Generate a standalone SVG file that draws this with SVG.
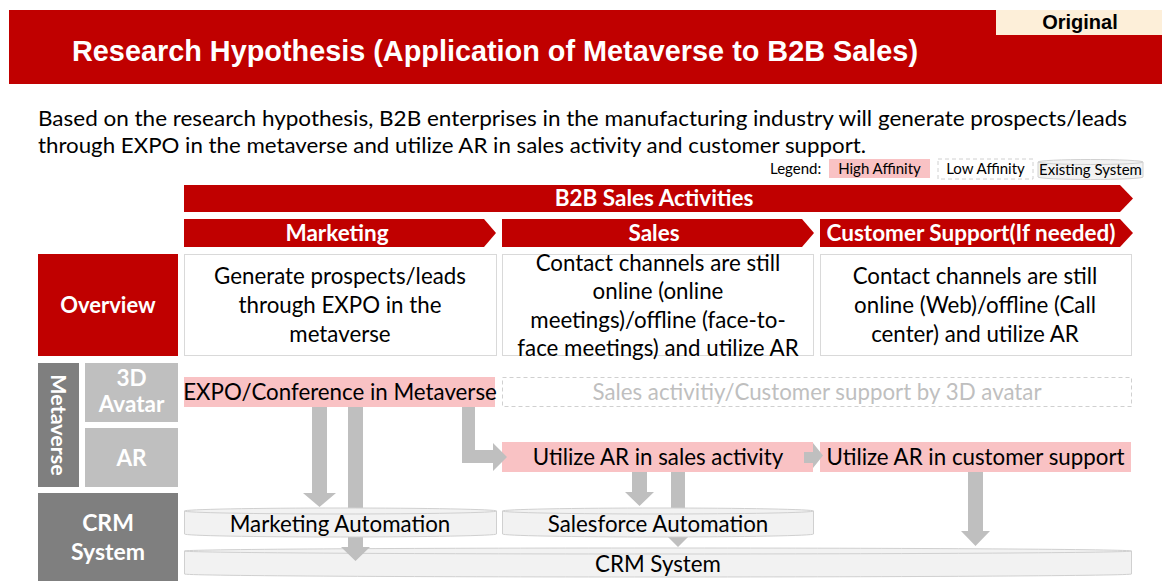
<svg xmlns="http://www.w3.org/2000/svg" width="1162" height="581" viewBox="0 0 1162 581">
<style>
.red{fill:#C00000}
.pink{fill:#F9C2C4}
.ga{fill:#BFBFBF}
.t{font-family:Lato,"Open Sans","Liberation Sans",sans-serif;fill:#000}
.tb{font-family:Lato,"Open Sans","Liberation Sans",sans-serif;font-weight:bold;fill:#FFFFFF}
.c{text-anchor:middle}
.n{font-size:22.3px}
.h{font-size:22.5px}
.box{fill:#FFFFFF;stroke:#D9D9D9;stroke-width:1}
.cyl{fill:#F2F2F2;stroke:#D0D0D0;stroke-width:1}
.dash{fill:#FFFFFF;stroke:#D0D0D0;stroke-width:1;stroke-dasharray:4 3}
</style>
<rect width="1162" height="581" fill="#FFFFFF"/>
<g id="title">
<rect x="9" y="10" width="1153" height="74" class="red"/>
<rect x="996" y="10" width="166" height="25" fill="#FDEFD9"/>
<text x="1080" y="29" text-anchor="middle" font-family="'Liberation Sans',Arial,sans-serif" font-weight="bold" font-size="20" fill="#000">Original</text>
<text x="72" y="61" font-family="'Liberation Sans',Arial,sans-serif" font-weight="bold" font-size="29" fill="#FFFFFF" textLength="846" lengthAdjust="spacingAndGlyphs">Research Hypothesis (Application of Metaverse to B2B Sales)</text>
</g>
<g id="intro">
<text class="t" x="38" y="126" font-size="21.5" textLength="1089" lengthAdjust="spacingAndGlyphs">Based on the research hypothesis, B2B enterprises in the manufacturing industry will generate prospects/leads</text>
<text class="t" x="38" y="153" font-size="21.5" textLength="828" lengthAdjust="spacingAndGlyphs">through EXPO in the metaverse and utilize AR in sales activity and customer support.</text>
</g>
<g id="legend">
<text class="t" x="770" y="174" font-size="15">Legend:</text>
<rect x="829" y="159" width="101" height="19" class="pink"/>
<text class="t c" x="879.5" y="174" font-size="15">High Affinity</text>
<rect x="938" y="159" width="95" height="20" class="dash"/>
<text class="t c" x="985.5" y="174" font-size="15">Low Affinity</text>
<path class="cyl" d="M1038,162 A52.5,2.5 0 0 1 1143,162 V177 A52.5,2.5 0 0 1 1038,177 Z"/>
<path d="M1038,162 A52.5,2.5 0 0 0 1143,162" fill="none" stroke="#D0D0D0"/>
<text class="t c" x="1090.5" y="175" font-size="15">Existing System</text>
</g>
<g id="b2b-activities">
<polygon class="red" points="184,185 1120,185 1133,198.5 1120,212 184,212"/>
<text class="tb c h" x="654" y="206">B2B Sales Activities</text>
</g>
<g id="marketing-header">
<polygon class="red" points="184,219 484,219 496,233 484,247 184,247"/>
<text class="tb c h" x="337" y="241">Marketing</text>
</g>
<g id="sales-header">
<polygon class="red" points="502,219 802,219 814,233 802,247 502,247"/>
<text class="tb c h" x="654" y="241">Sales</text>
</g>
<g id="support-header">
<polygon class="red" points="820,219 1120,219 1133,233 1120,247 820,247"/>
<text class="tb c h" x="971" y="241">Customer Support(If needed)</text>
</g>
<g id="overview-label">
<rect x="38" y="254" width="140" height="102" class="red"/>
<text class="tb c" x="108" y="313" font-size="22">Overview</text>
</g>
<g id="overview-marketing">
<rect x="184.5" y="254.5" width="312" height="101" class="box"/>
<text class="t c n"><tspan x="340" y="284">Generate prospects/leads</tspan><tspan x="340" y="313">through EXPO in the</tspan><tspan x="340" y="342">metaverse</tspan></text>
</g>
<g id="overview-sales">
<rect x="502.5" y="254.5" width="311" height="101" class="box"/>
<text class="t c n"><tspan x="658" y="271">Contact channels are still</tspan><tspan x="658" y="299">online (online</tspan><tspan x="658" y="328">meetings)/offline (face-to-</tspan><tspan x="658" y="356">face meetings) and utilize AR</tspan></text>
</g>
<g id="overview-support">
<rect x="820.5" y="254.5" width="311" height="101" class="box"/>
<text class="t c n"><tspan x="975" y="284">Contact channels are still</tspan><tspan x="975" y="313">online (Web)/offline (Call</tspan><tspan x="975" y="342">center) and utilize AR</tspan></text>
</g>
<g id="metaverse-label">
<rect x="38" y="363" width="41" height="124" fill="#7F7F7F"/>
<text class="tb c" transform="translate(51,425) rotate(90)" x="0" y="0" font-size="21.5">Metaverse</text>
</g>
<g id="avatar-label">
<rect x="85" y="363" width="93" height="59" fill="#BFBFBF"/>
<text class="tb c" font-size="22.5"><tspan x="131.5" y="386">3D</tspan><tspan x="131.5" y="412">Avatar</tspan></text>
</g>
<g id="ar-label">
<rect x="85" y="428" width="93" height="59" fill="#BFBFBF"/>
<text class="tb c" x="131.5" y="466" font-size="22.5">AR</text>
</g>
<g id="crm-label">
<rect x="38" y="493" width="140" height="88" fill="#7F7F7F"/>
<text class="tb c" font-size="23"><tspan x="108" y="531">CRM</tspan><tspan x="108" y="560">System</tspan></text>
</g>
<g id="expo">
<rect x="184" y="377" width="311" height="30" class="pink"/>
<text class="t c n" x="340" y="400">EXPO/Conference in Metaverse</text>
</g>
<g id="avatar-sales">
<rect x="502.5" y="377.5" width="629" height="29" class="dash"/>
<text class="t c n" x="817" y="400" style="fill:#BFBFBF">Sales activitiy/Customer support by 3D avatar</text>
</g>
<g id="ar-sales">
<rect x="502" y="442" width="311" height="30" class="pink"/>
<text class="t c n" x="658" y="465">Utilize AR in sales activity</text>
</g>
<g id="ar-support">
<rect x="820" y="442" width="311" height="30" class="pink"/>
<text class="t c n" x="975.5" y="465">Utilize AR in customer support</text>
</g>
<g id="crm-system">
<path class="cyl" d="M184.5,551 A473,3 0 0 1 1131.5,551 V574 A473,3 0 0 1 184.5,574 Z"/>
<path d="M184.5,551 A473,3 0 0 0 1131.5,551" fill="none" stroke="#D0D0D0"/>
<text class="t c n" x="658" y="572">CRM System</text>
</g>
<g id="connectors">
<polygon class="ga" points="312,407 327,407 327,493 336,493 319.5,507 303,493 312,493"/>
<polygon class="ga" points="348,407 363,407 363,547 370,547 355.5,561 341,547 348,547"/>
<polygon class="ga" points="462,407 475,407 475,450 493,450 493,443 507,457 493,471 493,463 462,463"/>
<polygon class="ga" points="632,472 647,472 647,492 654,492 639.5,506 625,492 632,492"/>
<polygon class="ga" points="671,472 685,472 685,533 692,533 678,547 664,533 671,533"/>
<polygon class="ga" points="804,452 813,452 813,443 823,455.5 813,468 813,463 804,463"/>
<polygon class="ga" points="968,472 983,472 983,531 990,531 975.5,546 961,531 968,531"/>
</g>
<g id="marketing-automation">
<path class="cyl" d="M184.5,511 A156,3 0 0 1 496.5,511 V534 A156,3 0 0 1 184.5,534 Z"/>
<path d="M184.5,511 A156,3 0 0 0 496.5,511" fill="none" stroke="#D0D0D0"/>
<text class="t c n" x="340" y="532">Marketing Automation</text>
</g>
<g id="salesforce-automation">
<path class="cyl" d="M502.5,511 A155.5,3 0 0 1 813.5,511 V534 A155.5,3 0 0 1 502.5,534 Z"/>
<path d="M502.5,511 A155.5,3 0 0 0 813.5,511" fill="none" stroke="#D0D0D0"/>
<text class="t c n" x="658" y="532">Salesforce Automation</text>
</g>
</svg>
